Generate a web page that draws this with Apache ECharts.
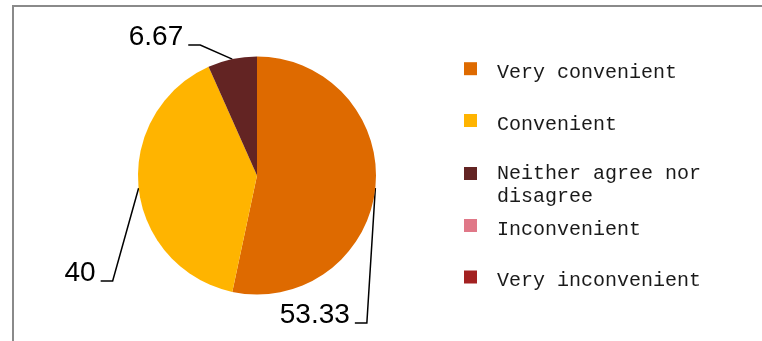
<!DOCTYPE html>
<html>
<head>
<meta charset="utf-8">
<script src="https://cdn.jsdelivr.net/npm/echarts@6/dist/echarts.min.js"></script>
<style>
  html, body { margin: 0; padding: 0; background: #fff; }
  #chart { width: 762px; height: 341px; }
</style>
</head>
<body>
<div id="chart"></div>
<script>
// Survey answers and their shares (%)
const categories = ['Very convenient', 'Convenient', 'Neither agree nor\ndisagree', 'Inconvenient', 'Very inconvenient'];
const shares = [53.33, 40, 6.67, 0, 0];
const colors = ['#DE6A00', '#FFB400', '#632423', '#E07888', '#A32121'];

// Leader line bends (offset of the elbow from the slice edge), per labelled slice
const leaderBend = [[-8.5, 135], [-26, 93], [-32, -14]];
// Vertical placement of each legend entry
const legendTops = [53.2, 105, 139, 210, 261.5];

const chart = echarts.init(document.getElementById('chart'), null, { renderer: 'canvas' });

const pieData = categories.map((name, i) => {
  const item = { name: name, value: shares[i], itemStyle: { color: colors[i] } };
  if (shares[i] === 0) {
    item.label = { show: false };
    item.labelLine = { show: false };
  }
  return item;
});

// Legend text: a thin spacer line on top nudges the words below the swatch centre
function legendText(name) {
  const lines = name.split('\n');
  const spacer = lines.length > 1 ? '{padL| }' : '{padS| }';
  return spacer + '\n' + lines.map(s => '{t|' + s + '}').join('\n');
}

chart.setOption({
  animation: false,
  backgroundColor: '#fff',
  graphic: [{
    type: 'rect',
    shape: { x: 13, y: 6, width: 800, height: 400 },
    style: { fill: 'none', stroke: '#8a8a8a', lineWidth: 2 },
    silent: true
  }],
  legend: categories.map((name, i) => ({
    data: [name],
    orient: 'vertical',
    left: 464,
    top: legendTops[i],
    padding: 0,
    icon: 'rect',
    itemWidth: 13,
    itemHeight: 13,
    selectedMode: false,
    formatter: legendText,
    textStyle: {
      fontFamily: 'Liberation Mono',
      fontSize: 20,
      color: '#1a1a1a',
      padding: [0, 0, 0, 15],
      rich: {
        t: { fontFamily: 'Liberation Mono', fontSize: 20, lineHeight: 23, color: '#1a1a1a' },
        padS: { fontSize: 1, height: 8, lineHeight: 8 },
        padL: { fontSize: 1, height: 23, lineHeight: 23 }
      }
    }
  })),
  series: [{
    type: 'pie',
    center: [257, 175.5],
    radius: 119,
    startAngle: 90,
    clockwise: true,
    avoidLabelOverlap: false,
    silent: true,
    emphasis: { disabled: true },
    itemStyle: { borderWidth: 0 },
    label: {
      show: true,
      position: 'outside',
      formatter: p => String(p.value),
      fontFamily: 'Liberation Sans',
      fontSize: 28,
      color: '#000'
    },
    labelLine: {
      show: true,
      length: 10,
      length2: 10,
      lineStyle: { color: '#000', width: 1.5 }
    },
    labelLayout: function (p) {
      const b = leaderBend[p.dataIndex];
      if (!b || !p.labelLinePoints) return {};
      const s = p.labelLinePoints[0];
      const e = [s[0] + b[0], s[1] + b[1]];
      const t = [e[0] - 12, e[1]];
      return {
        x: t[0] - 5,
        y: t[1] - 7.5,
        align: 'right',
        verticalAlign: 'middle',
        labelLinePoints: [s, e, t]
      };
    },
    data: pieData
  }]
});
</script>
</body>
</html>
